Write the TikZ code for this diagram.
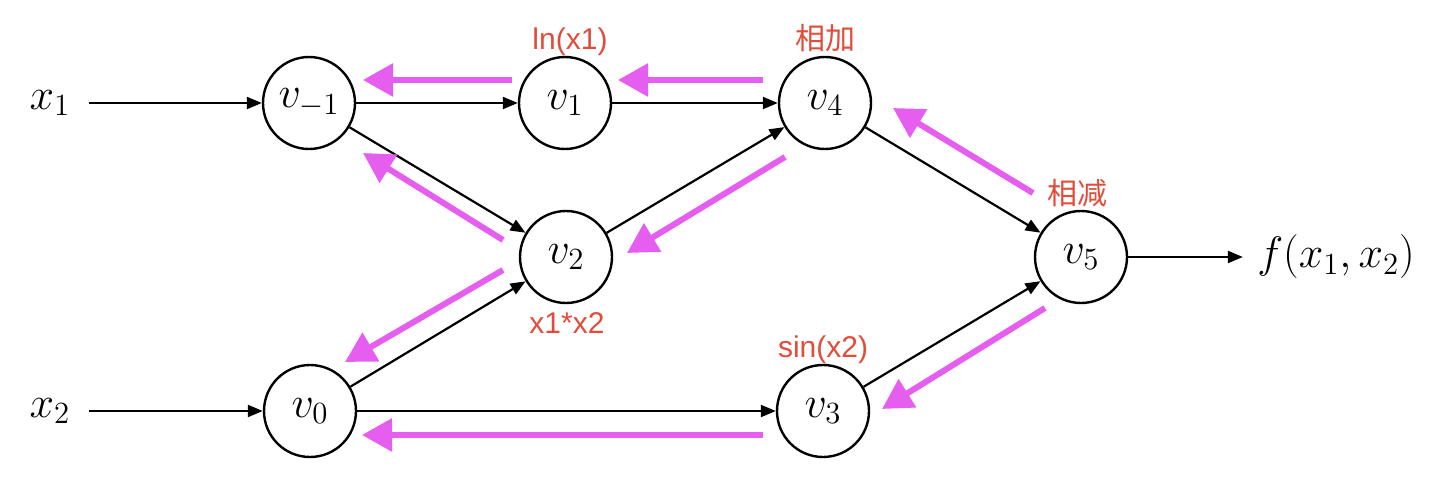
\RequirePackage{fix-cm}
\documentclass[tikz,border=0pt]{standalone}
\usepackage{fontspec}
\newfontfamily\labelfont{Liberation Sans}
\newfontfamily\cjkfont{Noto Sans CJK SC}
\usetikzlibrary{arrows.meta}
\definecolor{lblred}{HTML}{E24D3B}
\definecolor{gradpink}{HTML}{E65EF0}
\tikzset{
  var/.style={circle, draw, line width=1.2pt, minimum size=46pt, inner sep=0pt, font=\fontsize{22}{26}\selectfont},
  txt/.style={inner sep=2pt, font=\fontsize{22}{26}\selectfont},
  edge/.style={line width=1.1pt, -{Triangle[length=7.5pt,width=6pt]}},
  back/.style={gradpink, line width=3pt, -{Triangle[length=15pt,width=16pt]}},
  lbl/.style={text=lblred, inner sep=0pt, font=\labelfont\fontsize{15}{18}\selectfont},
  cjklbl/.style={text=lblred, inner sep=0pt, font=\cjkfont\fontsize{15}{18}\selectfont}
}
\begin{document}
\begin{tikzpicture}[x=0.5pt,y=-0.5pt]
\useasboundingbox[fill=white] (0,0) rectangle (1440,492);
% nodes
\node[var] (vm1) at (309,103) {$v_{-1}$};
\node[var] (v1) at (565,103) {$v_1$};
\node[var] (v4) at (825,103) {$v_4$};
\node[var] (v2) at (566,257) {$v_2$};
\node[var] (v5) at (1081,257) {$v_5$};
\node[var] (v0) at (310,411) {$v_0$};
\node[var] (v3) at (823,411) {$v_3$};
\node[txt] (x1) at (50,103) {$x_1$};
\node[txt] (x2) at (50,411) {$x_2$};
\node[txt] (f) at (1336,257) {$f(x_1,x_2)$};
% labels
\node[lbl] (l1) at (570,42) {ln(x1)};
\node[cjklbl] (l4) at (825,38) {相加};
\node[cjklbl] (l5) at (1077,193) {相减};
\node[lbl] (l2) at (567,323) {x1*x2};
\node[lbl] (l3) at (823,350) {sin(x2)};
% forward edges
\draw[edge, shorten <=7pt] (x1) -- (vm1);
\draw[edge, shorten <=7pt] (x2) -- (v0);
\draw[edge] (vm1) -- (v1);
\draw[edge] (vm1) -- (v2);
\draw[edge] (v1) -- (v4);
\draw[edge] (v2) -- (v4);
\draw[edge] (v4) -- (v5);
\draw[edge] (v0) -- (v2);
\draw[edge] (v0) -- (v3);
\draw[edge] (v3) -- (v5);
\draw[edge, shorten >=5pt] (v5) -- (f);
% backward (gradient) arrows
\coordinate (a1s) at (512,80);  \coordinate (a1e) at (363,80);
\coordinate (a2s) at (763,80);  \coordinate (a2e) at (618,80);
\coordinate (a3s) at (1033,193); \coordinate (a3e) at (893,108);
\coordinate (a4s) at (785,157); \coordinate (a4e) at (627,253);
\coordinate (a5s) at (503,240); \coordinate (a5e) at (363,153);
\coordinate (a6s) at (503,270); \coordinate (a6e) at (345,362);
\coordinate (a7s) at (1045,308); \coordinate (a7e) at (882,409);
\coordinate (a8s) at (763,435); \coordinate (a8e) at (362,435);
\draw[back] (a1s) -- (a1e);
\draw[back] (a2s) -- (a2e);
\draw[back] (a3s) -- (a3e);
\draw[back] (a4s) -- (a4e);
\draw[back] (a5s) -- (a5e);
\draw[back] (a6s) -- (a6e);
\draw[back] (a7s) -- (a7e);
\draw[back] (a8s) -- (a8e);
\end{tikzpicture}
\end{document}
